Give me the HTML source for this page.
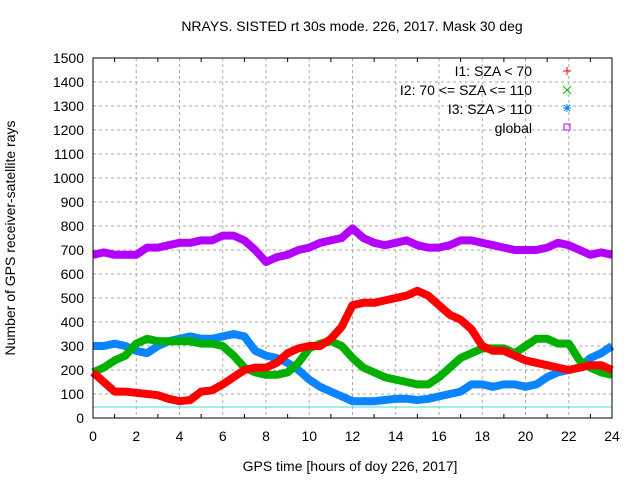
<!DOCTYPE html>
<html><head><meta charset="utf-8"><style>
body{margin:0;background:#fff}
svg{display:block;font-family:"Liberation Sans",sans-serif}
</style></head><body>
<svg id="chart" width="640" height="480">
<rect width="640" height="480" fill="#fff"/>
<text x="352" y="31" font-size="14" text-anchor="middle">NRAYS. SISTED rt 30s mode. 226, 2017. Mask 30 deg</text>
<g id="grid"></g>
<g id="series"></g>
<rect x="93" y="58" width="519" height="360" fill="none" stroke="#000"/>
<g id="axes" font-size="14"></g>
<text x="350" y="471" font-size="14" text-anchor="middle">GPS time [hours of doy 226, 2017]</text>
<text transform="translate(15,238) rotate(-90)" font-size="14" text-anchor="middle">Number of GPS receiver-satellite rays</text>
<g font-size="14" text-anchor="end">
<text x="532" y="76">I1: SZA &lt; 70</text>
<text x="532" y="95">I2: 70 &lt;= SZA &lt;= 110</text>
<text x="532" y="114">I3: SZA &gt; 110</text>
<text x="532" y="133">global</text>
<path d="M563 71h8M567 67v8" stroke="#f00"/>
<path d="M563 86l8 8M571 86l-8 8" stroke="#0b0"/>
<path d="M563 108h8M567 104v8M564 105l6 6M570 105l-6 6" stroke="#08f"/>
<rect x="564" y="124" width="6" height="6" fill="none" stroke="#b0f"/>
</g>
</svg>
<script>
const hours=[0,0.5,1,1.5,2,2.5,3,3.5,4,4.5,5,5.5,6,6.5,7,7.5,8,8.5,9,9.5,10,10.5,11,11.5,12,12.5,13,13.5,14,14.5,15,15.5,16,16.5,17,17.5,18,18.5,19,19.5,20,20.5,21,21.5,22,22.5,23,23.5,24];
const i1=[190,150,110,110,105,100,95,80,70,75,110,115,140,170,200,210,210,230,270,290,300,300,330,380,470,480,480,490,500,510,530,510,470,430,410,370,300,280,280,260,240,230,220,210,200,210,220,220,200];
const i2=[190,210,240,260,310,330,320,320,320,320,310,310,300,260,210,190,180,180,190,230,290,310,320,300,250,210,190,170,160,150,140,140,170,210,250,270,290,290,290,270,300,330,330,310,310,240,210,190,180];
const i3=[300,300,310,300,280,270,300,320,330,340,330,330,340,350,340,280,260,250,230,200,160,130,110,90,70,70,70,75,80,80,75,80,90,100,110,140,140,130,140,140,130,140,170,190,200,210,250,270,300];
const glob=[680,690,680,680,680,710,710,720,730,730,740,740,760,760,740,700,650,670,680,700,710,730,740,750,790,750,730,720,730,740,720,710,710,720,740,740,730,720,710,700,700,700,710,730,720,700,680,690,680];
const xTicks=[0,2,4,6,8,10,12,14,16,18,20,22,24];
const yTicks=[0,100,200,300,400,500,600,700,800,900,1000,1100,1200,1300,1400,1500];
const refLine=[46];
const NS="http://www.w3.org/2000/svg";
const X=h=>93+h*519/24, Y=v=>418-v*360/1500;
function mk(t,a,p){const e=document.createElementNS(NS,t);for(const k in a)e.setAttribute(k,a[k]);p.appendChild(e);return e;}
const grid=document.getElementById('grid'),axes=document.getElementById('axes'),ser=document.getElementById('series');
xTicks.forEach(t=>{
 if(t>0&&t<24){const g=mk('line',{x1:X(t),x2:X(t),y1:58,y2:418,stroke:'#aaa','stroke-dasharray':'3,3'},grid);
 
 }
 const l=mk('text',{x:X(t),y:441,'text-anchor':'middle'},axes);l.textContent=t;
 
 
});
for(let t=1;t<24;t+=2){mk('line',{x1:X(t),x2:X(t),y1:418,y2:414,stroke:'#000'},axes);mk('line',{x1:X(t),x2:X(t),y1:58,y2:62,stroke:'#000'},axes);}
yTicks.forEach(t=>{
 if(t>0&&t<1500){const g=mk('line',{x1:93,x2:612,y1:Y(t),y2:Y(t),stroke:'#aaa','stroke-dasharray':'3,3'},grid);
 
 }
 const l=mk('text',{x:84,y:Y(t)+5,'text-anchor':'end'},axes);l.textContent=t;
 
 
});
refLine.forEach(v=>{const r=mk('line',{x1:93,x2:612,y1:Y(v),y2:Y(v),stroke:'#4dd'},grid);
 
 });
[[i3,'#0a84ff','series-i3'],[i2,'#00b000','series-i2'],[i1,'#ff0000','series-i1'],[glob,'#b400ff','series-global']].forEach(([d,c,n])=>{
 const pts=hours.map((h,i)=>X(h)+','+Y(d[i])).join(' ');
 const p=mk('polyline',{points:pts,fill:'none',stroke:c,'stroke-width':8,'stroke-linejoin':'round'},ser);
 
 
});
</script>
</body></html>
